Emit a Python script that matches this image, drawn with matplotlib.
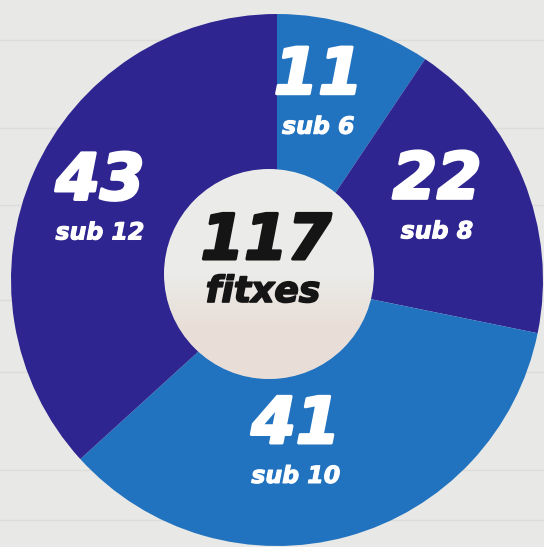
import numpy as np
import matplotlib.pyplot as plt
import matplotlib.patheffects as pe
from matplotlib.patches import Circle

# --- DATA ---
values = [11, 22, 41, 43]
subs = ["sub 6", "sub 8", "sub 10", "sub 12"]
colors = ["#2273bf", "#2e2590", "#2273bf", "#2e2590"]
total_label = "117"
total_word = "fitxes"

# --- LAYOUT (pixel space, y up) ---
W, H = 544, 547
cx, cy = 277, H - 280
R_out, R_in = 266, 105
label_r = [185, 177, 170, 192]
label_nudge = [-4, -3, 9, -1]   # degrees, hand-tuned

fig = plt.figure(figsize=(W / 100, H / 100), dpi=100)
ax = fig.add_axes([0, 0, 1, 1])
ax.axis("off")

# whitewashed plank background
fig.patch.set_facecolor("#e8e8e6")
for yy in [40, 128, 205, 300, 372, 470, 520]:
    ax.axhline(H - yy, color="#dcdcd9", lw=1.0, zorder=0)

ax.pie(values, colors=colors, startangle=90, counterclock=False,
       center=(cx, cy), radius=R_out,
       wedgeprops=dict(width=R_out - 80, linewidth=0))

# inner hole (slightly off-centre like the original) with faded photo tint
hx, hy = cx - 8, cy + 6
hole = Circle((hx, hy), R_in, facecolor="#ebebe9", edgecolor="none", zorder=3)
ax.add_patch(hole)
grad = np.linspace(0, 1, 100)[:, None] * np.ones((1, 10))
rgba = np.zeros((100, 10, 4))
rgba[..., 0] = 0.90
rgba[..., 1] = 0.76
rgba[..., 2] = 0.68
rgba[..., 3] = np.clip((grad - 0.5) * 1.2, 0, 0.3)
img = ax.imshow(rgba, extent=(hx - R_in, hx + R_in, hy - R_in, hy + R_in),
                origin="upper", zorder=4, interpolation="bilinear")
img.set_clip_path(hole)

ax.set_xlim(0, W)
ax.set_ylim(0, H)
ax.set_aspect("auto")

white_fx = [pe.withStroke(linewidth=2.2, foreground="white")]
sub_fx = [pe.withStroke(linewidth=0.8, foreground="white")]
dark_fx = [pe.withStroke(linewidth=2.2, foreground="#151515")]

# segment labels
cum = np.cumsum([0] + values[:-1])
tot = sum(values)
for i, v in enumerate(values):
    a = np.deg2rad((cum[i] + v / 2) / tot * 360 + label_nudge[i])
    x = cx + label_r[i] * np.sin(a)
    y = cy + label_r[i] * np.cos(a)
    ax.text(x, y + 24, str(v), color="white", fontsize=46, fontweight="bold",
            fontstyle="italic", ha="center", va="center", zorder=5,
            path_effects=white_fx)
    ax.text(x, y - 27, subs[i], color="white", fontsize=17, fontweight="bold",
            fontstyle="italic", ha="center", va="center", zorder=5,
            path_effects=sub_fx)

# centre total
ax.text(hx - 3, hy + 32, total_label, color="#151515", fontsize=45,
        fontweight="bold", fontstyle="italic", ha="center", va="center",
        zorder=5, path_effects=dark_fx)
ax.text(hx - 6, hy - 18, total_word, color="#151515", fontsize=26,
        fontweight="bold", fontstyle="italic", ha="center", va="center",
        zorder=5, path_effects=[pe.withStroke(linewidth=1.2, foreground="#151515")])

fig.savefig("out.png", dpi=100, facecolor=fig.get_facecolor())
